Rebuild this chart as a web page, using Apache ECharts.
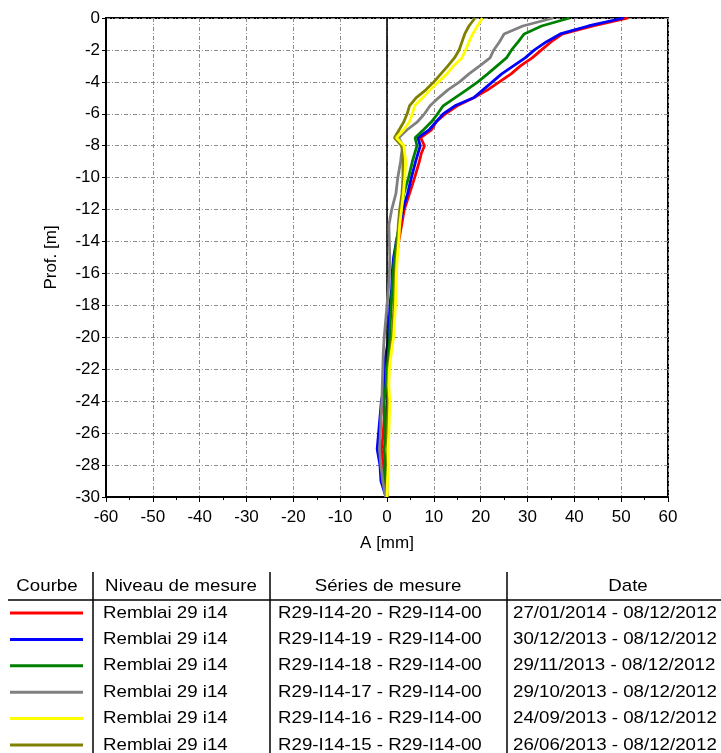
<!DOCTYPE html>
<html>
<head>
<meta charset="utf-8">
<script src="https://cdn.jsdelivr.net/npm/echarts@6/dist/echarts.min.js"></script>
<style>
  html, body { margin: 0; padding: 0; background: #fff; }
  #chart { width: 721px; height: 753px; }
</style>
</head>
<body>
<div id="chart"></div>
<script>
// Depth of each reading [m]
const depth = [0, -0.5, -1, -1.5, -2, -2.5, -3, -3.5, -4, -4.5, -5, -5.5, -6, -6.5, -7, -7.5, -8, -8.5,
  -9, -10, -11, -12, -13, -14, -15, -16, -17, -18, -19, -20, -21, -22, -23, -24, -25, -26, -27, -28, -29, -30];

// Cumulative displacement A [mm] for each measurement series
const serie20 = [51.5, 44, 37.5, 35, 33, 31, 28.5, 26.5, 24, 21.5, 18.5, 15, 12.5, 10.5, 9.5, 7.2, 8, 7.3,
  6.9, 5.9, 4.8, 3.7, 3.1, 2.5, 2, 1.5, 1.2, 0.8, 0.6, 0.6, 0.2, -0.3, -0.5, -0.9, -0.6, -0.8, -1.2, -0.8, -0.6, 0];
const serie19 = [50.5, 43, 37, 34, 31.5, 29.5, 27, 24.5, 22.5, 20.5, 18.5, 14.5, 12, 10.5, 9, 6.6, 7.1, 6.6,
  6.1, 5.2, 4.4, 3.4, 2.7, 2, 1.4, 1.1, 1, 0.6, 0.5, 0.4, -0.2, -0.7, -0.6, -1.2, -1.5, -1.8, -2.1, -1.5, -1.3, -0.2];
const serie18 = [39, 33, 29.3, 28, 26.6, 25.5, 23.5, 21.5, 19.4, 17, 14.5, 12, 10.8, 9.5, 7.8, 6, 6.4, 5.9,
  5.4, 4.6, 3.6, 3, 2.6, 2, 1.6, 1.3, 1.1, 0.9, 0.7, 0.6, 0.3, 0, -0.2, -0.6, -0.4, -0.3, -0.6, -0.4, -0.3, 0];
const serie17 = [35.5, 29, 25, 24, 22.8, 22, 19.8, 17.5, 15.5, 13, 11, 9.2, 8, 6.5, 4.3, 2.5, 3.4, 3.1,
  2.9, 2.3, 1.9, 1, 0.4, 0.5, 0.6, 0.5, 0.3, 0, -0.3, -0.6, -0.8, -0.9, -1, -1.1, -1.3, -1.4, -1.6, -1.3, -0.9, -0.3];
const serie16 = [20.4, 19.3, 18.3, 17.5, 16.8, 16, 14.2, 12.8, 11, 9.2, 7.6, 5.9, 5.4, 4.8, 3.6, 2, 3.6, 3.8,
  4, 3.8, 3.5, 3.1, 2.7, 2.5, 2.2, 2, 1.9, 1.8, 1.6, 1.4, 0.9, 0.5, 0.4, 0.6, 0.5, 0.4, 0.2, 0.3, 0.1, 0];
const serie15 = [18.8, 17.5, 16.6, 16, 15.4, 14.4, 13, 11.5, 10, 8.3, 6.2, 4.8, 4.3, 3.6, 2.6, 1.6, 3.1, 3.4,
  3.4, 3.4, 3.2, 2.7, 2.4, 2.3, 2, 1.8, 1.6, 1.5, 1.3, 1.1, 0.7, 0.3, 0.2, 0.3, 0.2, 0.1, 0, 0.1, 0, 0];

// Legend table rows
const courbes = [
  { serie: 'R29-I14-20 - R29-I14-00', date: '27/01/2014 - 08/12/2012', color: '#ff0000', values: serie20 },
  { serie: 'R29-I14-19 - R29-I14-00', date: '30/12/2013 - 08/12/2012', color: '#0000ff', values: serie19 },
  { serie: 'R29-I14-18 - R29-I14-00', date: '29/11/2013 - 08/12/2012', color: '#008000', values: serie18 },
  { serie: 'R29-I14-17 - R29-I14-00', date: '29/10/2013 - 08/12/2012', color: '#808080', values: serie17 },
  { serie: 'R29-I14-16 - R29-I14-00', date: '24/09/2013 - 08/12/2012', color: '#ffff00', values: serie16 },
  { serie: 'R29-I14-15 - R29-I14-00', date: '26/06/2013 - 08/12/2012', color: '#808000', values: serie15 }
];
const niveau = 'Remblai 29 i14';
const headers = ['Courbe', 'Niveau de mesure', 'Séries de mesure', 'Date'];

const FONT = '"Liberation Sans", Arial, sans-serif';
const gridLine = { color: '#8c8c8c', width: 1, type: [4, 2, 1, 2] };

// Drawing order: yellow on top, olive just beneath it
const drawOrder = [0, 1, 2, 3, 5, 4];
const series = drawOrder.map(i => ({
  name: courbes[i].serie,
  type: 'line',
  data: courbes[i].values.map((v, k) => [v, depth[k]]),
  showSymbol: false,
  symbol: 'none',
  lineStyle: { color: courbes[i].color, width: 2.8 },
  z: 3 + drawOrder.indexOf(i),
  animation: false
}));
// Vertical reference at A = 0
series.push({
  type: 'line', data: [], silent: true, animation: false, z: 2,
  markLine: {
    silent: true, symbol: 'none', animation: false, label: { show: false },
    lineStyle: { color: '#000', width: 1.6, type: 'solid' },
    data: [{ xAxis: 0 }]
  }
});

// Legend table as graphic elements (text slightly widened like the printed table)
const tableTop = 572, headerY = 586, ruleY = 600, rowY0 = 613, rowStep = 26.4;
const colLines = [93, 270, 507];
const textScale = 1.1;
const graphic = [];
colLines.forEach(x => graphic.push({
  type: 'line', shape: { x1: x, y1: tableTop, x2: x, y2: 753 },
  style: { stroke: '#000', lineWidth: 1.5 }
}));
graphic.push({ type: 'line', shape: { x1: 8, y1: ruleY, x2: 721, y2: ruleY }, style: { stroke: '#000', lineWidth: 1.5 } });
const headerX = [47, 181, 388, 628];
headers.forEach((h, i) => graphic.push({
  type: 'text', x: headerX[i], y: headerY, scaleX: textScale,
  style: { text: h, font: '17px ' + FONT, fill: '#000', textAlign: 'center', textVerticalAlign: 'middle' }
}));
courbes.forEach((c, r) => {
  const y = rowY0 + r * rowStep;
  graphic.push({ type: 'line', shape: { x1: 10, y1: y, x2: 83, y2: y }, style: { stroke: c.color, lineWidth: 3 } });
  graphic.push({ type: 'text', x: 103, y: y, scaleX: textScale, style: { text: niveau, font: '17px ' + FONT, fill: '#000', textVerticalAlign: 'middle' } });
  graphic.push({ type: 'text', x: 278, y: y, scaleX: textScale, style: { text: c.serie, font: '17px ' + FONT, fill: '#000', textVerticalAlign: 'middle' } });
  graphic.push({ type: 'text', x: 513, y: y, scaleX: textScale, style: { text: c.date, font: '17px ' + FONT, fill: '#000', textVerticalAlign: 'middle' } });
});

const chart = echarts.init(document.getElementById('chart'), null, { renderer: 'canvas' });
chart.setOption({
  animation: false,
  backgroundColor: '#fff',
  grid: { left: 106, right: 53, top: 18, bottom: 256, show: true, borderColor: '#000', borderWidth: 2, backgroundColor: 'transparent' },
  xAxis: {
    type: 'value', min: -60, max: 60, interval: 10,
    name: 'A [mm]', nameLocation: 'middle', nameGap: 38,
    nameTextStyle: { fontFamily: FONT, fontSize: 17, color: '#000' },
    axisLine: { show: true, onZero: false, lineStyle: { color: '#000', width: 2 } },
    axisTick: { show: true, length: 5, lineStyle: { color: '#000' } },
    minorTick: { show: true, splitNumber: 2, length: 3, lineStyle: { color: '#000' } },
    axisLabel: { fontFamily: FONT, fontSize: 17, color: '#000', margin: 12 },
    splitLine: { show: true, lineStyle: gridLine }
  },
  yAxis: {
    type: 'value', min: -30, max: 0, interval: 2,
    name: 'Prof. [m]', nameLocation: 'middle', nameGap: 46, nameRotate: 90,
    nameTextStyle: { fontFamily: FONT, fontSize: 17, color: '#000' },
    axisLine: { show: true, onZero: false, lineStyle: { color: '#000', width: 2 } },
    axisTick: { show: true, length: 4, lineStyle: { color: '#000' } },
    axisLabel: { fontFamily: FONT, fontSize: 17, color: '#000', margin: 6 },
    splitLine: { show: true, lineStyle: gridLine }
  },
  series: series,
  graphic: graphic
});
</script>
</body>
</html>
